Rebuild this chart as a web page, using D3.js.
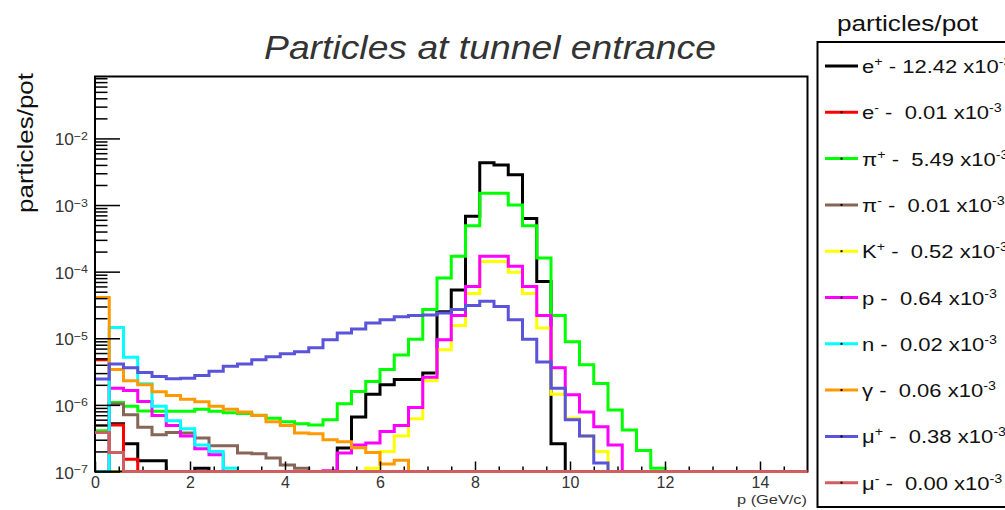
<!DOCTYPE html>
<html>
<head>
<meta charset="utf-8">
<script src="https://cdn.jsdelivr.net/npm/d3@7"></script>
<style>
body { margin: 0; background: #fff; }
text { font-family: "Liberation Sans", Arial, Helvetica, sans-serif; }
</style>
</head>
<body>
<div id="chart"></div>
<script>
// histogram binning: 50 bins of 0.3 GeV/c from 0 to 15
var xMin = 0, xMax = 15, binWidth = 0.3;

// bin contents (particles/pot)
var ePlus = [0, 5.2e-7, 2.6e-7, 1.45e-7, 1.45e-7, 0, 0, 1.12e-7, 0, 0,
	0, 0, 0, 0, 0, 0, 0, 2.25e-7, 6.6e-7, 1.45e-6,
	2.0e-6, 2.4e-6, 2.4e-6, 3.0e-6, 2.5e-5, 5.3e-5, 6.8e-4, 4.3e-3, 4.0e-3, 2.85e-3,
	6.3e-4, 7.1e-5, 2.6e-7, 0, 0, 0, 0, 0, 0, 0,
	0, 0, 0, 0, 0, 0, 0, 0, 0, 0];
var eMinus = [4.75e-6, 5.0e-7, 1.53e-7, 0, 0, 0, 0, 0, 0, 0,
	0, 0, 0, 0, 0, 0, 0, 0, 0, 0,
	0, 0, 0, 0, 0, 0, 0, 0, 0, 0,
	0, 0, 0, 0, 0, 0, 0, 0, 0, 0,
	0, 0, 0, 0, 0, 0, 0, 0, 0, 0];
var piPlus = [4.1e-7, 1.09e-6, 9.5e-7, 8.1e-7, 8.0e-7, 8.0e-7, 8.0e-7, 8.6e-7, 8.0e-7, 7.6e-7,
	7.4e-7, 7.0e-7, 6.3e-7, 5.6e-7, 5.2e-7, 5.0e-7, 6.0e-7, 1.04e-6, 1.59e-6, 2.24e-6,
	3.4e-6, 5.6e-6, 9.7e-6, 2.7e-5, 8.0e-5, 1.7e-4, 4.9e-4, 1.5e-3, 1.5e-3, 1.0e-3,
	4.9e-4, 1.6e-4, 2.2e-5, 8.9e-6, 4.0e-6, 2.1e-6, 8.4e-7, 4.2e-7, 2.07e-7, 1.12e-7,
	0, 0, 0, 0, 0, 0, 0, 0, 0, 0];
var piMinus = [4.9e-7, 1.03e-6, 7.1e-7, 4.6e-7, 3.55e-7, 3.85e-7, 3.8e-7, 3.17e-7, 2.43e-7, 2.43e-7,
	1.9e-7, 1.85e-7, 1.6e-7, 1.25e-7, 1.12e-7, 0, 0, 0, 0, 0,
	0, 0, 0, 0, 0, 0, 0, 0, 0, 0,
	0, 0, 0, 0, 0, 0, 0, 0, 0, 0,
	0, 0, 0, 0, 0, 0, 0, 0, 0, 0];
var kPlus = [0, 0, 0, 0, 0, 0, 0, 0, 0, 0,
	0, 0, 0, 0, 0, 0, 0, 0, 0, 1.12e-7,
	2.0e-7, 3.4e-7, 6.2e-7, 2.3e-6, 6.7e-6, 1.55e-5, 4.7e-5, 1.42e-4, 1.42e-4, 9.8e-5,
	4.7e-5, 1.42e-5, 1.45e-6, 6.3e-7, 3.4e-7, 2.0e-7, 0, 0, 0, 0,
	0, 0, 0, 0, 0, 0, 0, 0, 0, 0];
var proton = [0, 1.78e-6, 1.64e-6, 1.12e-6, 6.9e-7, 4.9e-7, 3.4e-7, 2.2e-7, 1.78e-7, 0,
	0, 0, 0, 0, 0, 0, 1.03e-7, 1.89e-7, 2.5e-7, 2.67e-7,
	4.0e-7, 4.9e-7, 9.1e-7, 2.6e-6, 9.5e-6, 2.2e-5, 6.0e-5, 1.7e-4, 1.7e-4, 1.2e-4,
	6.0e-5, 2.2e-5, 3.6e-6, 1.42e-6, 7.8e-7, 4.7e-7, 2.5e-7, 0, 0, 0,
	0, 0, 0, 0, 0, 0, 0, 0, 0, 0];
var neutron = [0, 1.45e-5, 5.2e-6, 2.07e-6, 9.5e-7, 5.8e-7, 4.4e-7, 2.5e-7, 2.0e-7, 1.12e-7,
	0, 0, 0, 0, 0, 0, 0, 0, 0, 0,
	0, 0, 0, 0, 0, 0, 0, 0, 0, 0,
	0, 0, 0, 0, 0, 0, 0, 0, 0, 0,
	0, 0, 0, 0, 0, 0, 0, 0, 0, 0];
var gamma = [4.1e-5, 3.4e-6, 2.3e-6, 2.0e-6, 1.57e-6, 1.38e-6, 1.22e-6, 1.11e-6, 9.5e-7, 8.6e-7,
	7.8e-7, 6.9e-7, 5.6e-7, 4.9e-7, 3.8e-7, 3.7e-7, 3.0e-7, 2.8e-7, 2.27e-7, 1.93e-7,
	1.3e-7, 1.48e-7, 0, 0, 0, 0, 0, 0, 0, 0,
	0, 0, 0, 0, 0, 0, 0, 0, 0, 0,
	0, 0, 0, 0, 0, 0, 0, 0, 0, 0];
var muPlus = [2.44e-6, 4.1e-6, 3.6e-6, 3.07e-6, 2.67e-6, 2.46e-6, 2.5e-6, 2.76e-6, 3.2e-6, 3.8e-6,
	4.1e-6, 4.75e-6, 5.3e-6, 5.85e-6, 6.3e-6, 7.2e-6, 9.5e-6, 1.2e-5, 1.38e-5, 1.7e-5,
	1.9e-5, 2.1e-5, 2.2e-5, 2.24e-5, 2.4e-5, 2.7e-5, 3.1e-5, 3.6e-5, 3.0e-5, 1.9e-5,
	9.7e-6, 4.4e-6, 1.78e-6, 6.0e-7, 3.4e-7, 1.34e-7, 0, 0, 0, 0,
	0, 0, 0, 0, 0, 0, 0, 0, 0, 0];
var muMinus = [3.85e-7, 1.93e-7, 0, 0, 0, 0, 0, 0, 0, 0,
	0, 0, 0, 0, 0, 0, 0, 0, 0, 0,
	0, 0, 0, 0, 0, 0, 0, 0, 0, 0,
	0, 0, 0, 0, 0, 0, 0, 0, 0, 0,
	0, 0, 0, 0, 0, 0, 0, 0, 0, 0];

var seriesValues = [ePlus, eMinus, piPlus, piMinus, kPlus, proton, neutron, gamma, muPlus, muMinus];
var seriesColors = ["#000000", "#ff0000", "#00ff00", "#876657", "#ffff00", "#ff00ff", "#00ffff", "#ff9900", "#5954d9", "#cf5e61"];
var legendNames = ["e", "e", "\u03c0", "\u03c0", "K", "p", "n", "\u03b3", "\u03bc", "\u03bc"];
var legendCharges = ["+", "-", "+", "-", "+", "", "", "", "+", "-"];
var legendTotals = ["12.42", " 0.01", " 5.49", " 0.01", " 0.52", " 0.64", " 0.02", " 0.06", " 0.38", " 0.00"];

var xTicks = [0, 2, 4, 6, 8, 10, 12, 14];
var yDecades = [-7, -6, -5, -4, -3, -2];
var yMin = 1e-7, yMax = 8.5e-2;

var frame = {left: 95, right: 807.5, top: 76.5, bottom: 471.5};

var svg = d3.select("#chart").append("svg")
	.attr("width", 1005)
	.attr("height", 510)
	.style("background", "#fff");

var x = d3.scaleLinear().domain([xMin, xMax]).range([frame.left, frame.right]);
var y = d3.scaleLog().domain([yMin, yMax]).range([frame.bottom, frame.top]);

// title
svg.append("text")
	.attr("x", 264)
	.attr("y", 59)
	.attr("textLength", 452)
	.attr("lengthAdjust", "spacingAndGlyphs")
	.style("font-size", "34px")
	.style("font-style", "italic")
	.attr("fill", "#333")
	.text("Particles at tunnel entrance");

// y title
svg.append("text")
	.attr("transform", "translate(33,213) rotate(-90)")
	.attr("textLength", 140)
	.attr("lengthAdjust", "spacingAndGlyphs")
	.style("font-size", "22px")
	.attr("fill", "#111")
	.text("particles/pot");

// x title
svg.append("text")
	.attr("x", 737)
	.attr("y", 504)
	.attr("textLength", 70)
	.attr("lengthAdjust", "spacingAndGlyphs")
	.style("font-size", "13.5px")
	.attr("fill", "#333")
	.text("p (GeV/c)");

// histograms
var line = d3.line()
	.x(function(d) { return x(d[0]); })
	.y(function(d) { return y(Math.max(d[1], yMin)); })
	.curve(d3.curveStepAfter);

seriesValues.forEach(function(vals, k) {
	var pts = vals.map(function(v, i) { return [xMin + i * binWidth, v]; });
	pts.push([xMax, vals[vals.length - 1]]);
	svg.append("path")
		.attr("d", line(pts))
		.attr("fill", "none")
		.attr("stroke", seriesColors[k])
		.attr("stroke-width", 3);
});

// frame
svg.append("rect")
	.attr("x", frame.left)
	.attr("y", frame.top)
	.attr("width", frame.right - frame.left)
	.attr("height", frame.bottom - frame.top)
	.attr("fill", "none")
	.attr("stroke", "#000")
	.attr("stroke-width", 2);

// y ticks
var yMajor = yDecades.map(function(d) { return Math.pow(10, d); });
var yMinor = [];
yDecades.forEach(function(d) {
	for (var m = 2; m <= 9; m++) {
		var v = m * Math.pow(10, d);
		if (v < yMax) yMinor.push(v);
	}
});

var gy = svg.append("g").attr("transform", "translate(" + frame.left + ",0)");
gy.append("g")
	.call(d3.axisLeft(y).tickValues(yMinor).tickSize(-12.5).tickFormat(""))
	.call(function(g) { g.select(".domain").remove(); g.selectAll("line").attr("stroke-width", 1.5); });
gy.append("g")
	.call(d3.axisLeft(y).tickValues(yMajor).tickSize(-25).tickFormat(""))
	.call(function(g) { g.select(".domain").remove(); g.selectAll("line").attr("stroke-width", 1.5); });

var yLabels = svg.append("g").selectAll("text")
	.data(yDecades)
	.enter().append("text")
	.attr("transform", function(d) { return "translate(88," + (y(Math.pow(10, d)) + 7) + ") scale(1.08,1)"; })
	.attr("text-anchor", "end")
	.attr("fill", "#333")
	.style("font-size", "16px");
yLabels.append("tspan").text("10");
yLabels.append("tspan")
	.attr("dy", -5.5)
	.style("font-size", "11.5px")
	.text(function(d) { return "\u2212" + (-d); });

// x ticks
var xMinor = d3.range(0.5, 15, 0.5).filter(function(v) { return v % 2 !== 0; });
var gx = svg.append("g").attr("transform", "translate(0," + frame.bottom + ")");
gx.append("g")
	.call(d3.axisBottom(x).tickValues(xMinor).tickSize(-5).tickFormat(""))
	.call(function(g) { g.select(".domain").remove(); g.selectAll("line").attr("stroke-width", 1.5); });
gx.append("g")
	.call(d3.axisBottom(x).tickValues(xTicks).tickSize(-10).tickPadding(5.5).tickFormat(d3.format("d")))
	.call(function(g) {
		g.select(".domain").remove();
		g.selectAll("line").attr("stroke-width", 1.5);
		g.selectAll("text")
			.attr("fill", "#333")
			.style("font-size", "16px")
			.style("font-family", "'Liberation Sans', Arial, sans-serif");
	});

// mu- drawn again on top of the frame bottom, as in the original
svg.append("path")
	.attr("d", line(muMinus.map(function(v, i) { return [xMin + i * binWidth, v]; }).concat([[xMax, 0]])))
	.attr("fill", "none")
	.attr("stroke", seriesColors[9])
	.attr("stroke-width", 3);

// legend
svg.append("text")
	.attr("x", 837)
	.attr("y", 30.5)
	.attr("textLength", 141)
	.attr("lengthAdjust", "spacingAndGlyphs")
	.style("font-size", "22px")
	.attr("fill", "#111")
	.text("particles/pot");

svg.append("rect")
	.attr("x", 817.5)
	.attr("y", 42)
	.attr("width", 200)
	.attr("height", 465)
	.attr("fill", "#fff")
	.attr("stroke", "#000")
	.attr("stroke-width", 2);

var rowY = function(i) { return 66 + i * 46.3; };
var entry = svg.append("g").selectAll("g")
	.data(seriesColors)
	.enter().append("g");

entry.append("line")
	.attr("x1", 825).attr("x2", 858)
	.attr("y1", function(d, i) { return rowY(i); })
	.attr("y2", function(d, i) { return rowY(i); })
	.attr("stroke", function(d) { return d; })
	.attr("stroke-width", 3);

entry.append("rect")
	.attr("x", 840.5)
	.attr("y", function(d, i) { return rowY(i) - 1; })
	.attr("width", 2).attr("height", 2)
	.attr("fill", "#000");

entry.append("text")
	.attr("transform", function(d, i) { return "translate(862," + (rowY(i) + 7) + ") scale(1.19,1)"; })
	.attr("fill", "#111")
	.style("font-size", "18.5px")
	.style("white-space", "pre")
	.each(function(d, i) {
		var t = d3.select(this);
		t.append("tspan").text(legendNames[i]);
		var shift = 0;
		if (legendCharges[i]) {
			t.append("tspan").attr("dy", -7).style("font-size", "12px").text(legendCharges[i]);
			shift = 7;
		}
		t.append("tspan").attr("dy", shift).text(" - " + legendTotals[i] + " x10");
		t.append("tspan").attr("dy", -7).style("font-size", "12px").text("-3");
	});
</script>
</body>
</html>
